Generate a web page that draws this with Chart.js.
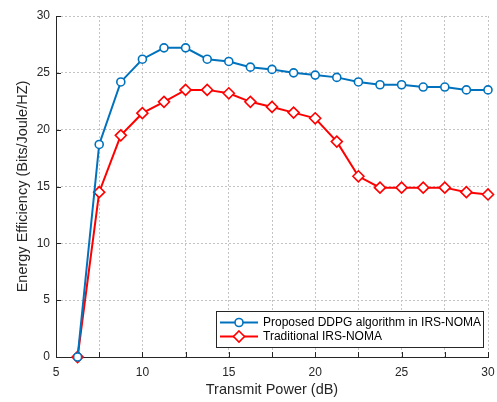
<!DOCTYPE html>
<html>
<head>
<meta charset="utf-8">
<script src="https://cdn.jsdelivr.net/npm/chart.js@4"></script>
<style>
html,body{margin:0;padding:0;background:#fff;}
canvas{display:block;}
</style>
</head>
<body>
<canvas id="c" width="497" height="402"></canvas>
<script>
const transmitPower = [6.25, 7.5, 8.75, 10, 11.25, 12.5, 13.75, 15, 16.25, 17.5, 18.75, 20, 21.25, 22.5, 23.75, 25, 26.25, 27.5, 28.75, 30];
const proposedDDPG = [0, 18.7, 24.2, 26.2, 27.2, 27.2, 26.2, 26.0, 25.5, 25.3, 25.0, 24.8, 24.6, 24.2, 23.95, 23.95, 23.75, 23.75, 23.5, 23.5];
const traditionalIRS = [0, 14.5, 19.5, 21.45, 22.45, 23.5, 23.5, 23.2, 22.45, 22.0, 21.5, 21.0, 18.95, 15.9, 14.9, 14.9, 14.9, 14.9, 14.5, 14.3];
const seriesNames = ["Proposed DDPG algorithm in IRS-NOMA", "Traditional IRS-NOMA"];
const xTickLabels = [5, 10, 15, 20, 25, 30];
const yTickLabels = [0, 5, 10, 15, 20, 25, 30];
const xTitle = "Transmit Power (dB)";
const yTitle = "Energy Efficiency (Bits/Joule/HZ)";

const FONT = "'Liberation Sans', Arial, Helvetica, sans-serif";
const TXT = "#262626";

function toPoints(xs, ys) { return xs.map((x, i) => ({x: x, y: ys[i]})); }

const inwardTicks = {
  id: 'inwardTicks',
  afterDatasetsDraw(chart) {
    const ctx = chart.ctx, xs = chart.scales.x, ys = chart.scales.y, a = chart.chartArea;
    ctx.save();
    ctx.strokeStyle = TXT; ctx.lineWidth = 1;
    ctx.beginPath();
    xs.ticks.forEach(t => {
      const px = Math.round(xs.getPixelForValue(t.value)) + 0.5;
      ctx.moveTo(px, a.bottom); ctx.lineTo(px, a.bottom - 5);
    });
    ys.ticks.forEach(t => {
      const py = Math.round(ys.getPixelForValue(t.value)) + 0.5;
      ctx.moveTo(a.left, py); ctx.lineTo(a.left + 5, py);
    });
    ctx.stroke();
    ctx.restore();
  }
};

const boxLegend = {
  id: 'boxLegend',
  afterDraw(chart) {
    const ctx = chart.ctx;
    const bx = 216, by = 311, bw = 267, bh = 36;
    ctx.save();
    ctx.fillStyle = '#fff';
    ctx.fillRect(bx, by, bw, bh);
    ctx.strokeStyle = TXT; ctx.lineWidth = 1;
    ctx.strokeRect(bx + 0.5, by + 0.5, bw, bh);
    const rows = [322.5, 336.5];
    chart.data.datasets.forEach((ds, i) => {
      const y = rows[i];
      ctx.strokeStyle = ds.borderColor; ctx.lineWidth = ds.borderWidth;
      ctx.beginPath(); ctx.moveTo(220, y); ctx.lineTo(258, y); ctx.stroke();
      ctx.fillStyle = '#fff';
      ctx.strokeStyle = ds.borderColor; ctx.lineWidth = ds.pointBorderWidth;
      ctx.beginPath();
      if (ds.pointStyle === 'circle') {
        ctx.arc(239, y, ds.pointRadius, 0, Math.PI * 2);
      } else {
        const r = ds.pointRadius;
        ctx.moveTo(239, y - r); ctx.lineTo(239 + r, y); ctx.lineTo(239, y + r); ctx.lineTo(239 - r, y); ctx.closePath();
      }
      ctx.fill(); ctx.stroke();
      ctx.fillStyle = '#000';
      ctx.font = "12px " + FONT;
      ctx.textBaseline = 'middle'; ctx.textAlign = 'left';
      ctx.fillText(ds.label, 263, y);
    });
    ctx.restore();
  }
};

new Chart(document.getElementById('c'), {
  type: 'line',
  data: {
    datasets: [
      {
        label: seriesNames[0],
        data: toPoints(transmitPower, proposedDDPG),
        borderColor: '#0072BD', backgroundColor: '#fff',
        borderWidth: 2, pointStyle: 'circle', pointRadius: 4,
        pointBorderWidth: 1.6, pointBackgroundColor: '#fff', pointBorderColor: '#0072BD',
        tension: 0, clip: false
      },
      {
        label: seriesNames[1],
        data: toPoints(transmitPower, traditionalIRS),
        borderColor: '#FF0000', backgroundColor: '#fff',
        borderWidth: 2, pointStyle: 'rectRot', pointRadius: 5.5,
        pointBorderWidth: 1.6, pointBackgroundColor: '#fff', pointBorderColor: '#FF0000',
        tension: 0, clip: false
      }
    ]
  },
  options: {
    responsive: false, animation: false,
    layout: { padding: { top: 16, right: 9, left: 0, bottom: 0 } },
    plugins: { legend: { display: false }, tooltip: { enabled: false } },
    scales: {
      x: {
        type: 'linear', min: 5, max: 30,
        afterFit(s) { s.height = 45; s.paddingLeft = 0; s.paddingRight = 0; },
        ticks: {
          stepSize: 2.5, padding: 8, color: TXT, font: { size: 12, family: FONT },
          maxRotation: 0, autoSkip: false,
          callback: v => (xTickLabels.includes(v) ? String(v) : '')
        },
        grid: { color: '#c4c4c4', lineWidth: 1, drawTicks: false },
        border: { display: true, color: TXT, width: 1, dash: [2, 2] },
        title: { display: true, text: xTitle, color: TXT, font: { size: 14.5, family: FONT }, padding: { top: 0, bottom: 3 } }
      },
      y: {
        type: 'linear', min: 0, max: 30,
        afterFit(s) { s.width = 56; s.paddingTop = 0; s.paddingBottom = 0; },
        ticks: {
          stepSize: 5, padding: 6, color: TXT, font: { size: 12, family: FONT },
          callback: v => (yTickLabels.includes(v) ? String(v) : '')
        },
        grid: { color: '#c4c4c4', lineWidth: 1, drawTicks: false },
        border: { display: true, color: TXT, width: 1, dash: [2, 2] },
        title: { display: true, text: yTitle, color: TXT, font: { size: 14.5, family: FONT }, padding: { top: 14, bottom: 0 } }
      }
    }
  },
  plugins: [inwardTicks, boxLegend]
});
</script>
</body>
</html>
